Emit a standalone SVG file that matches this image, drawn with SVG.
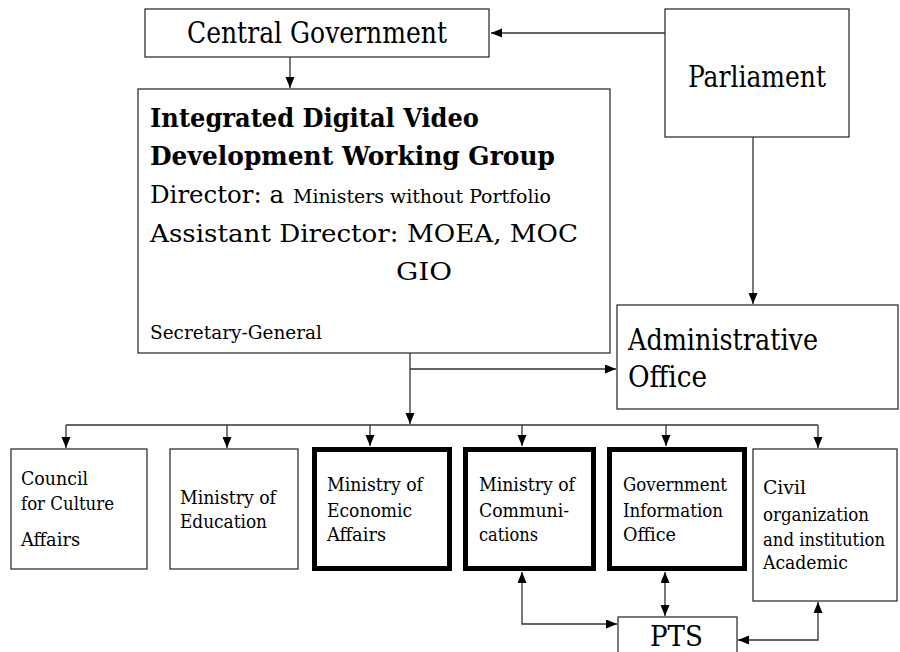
<svg xmlns="http://www.w3.org/2000/svg" width="900" height="652" viewBox="0 0 900 652">
<defs>
<marker id="ah" markerUnits="userSpaceOnUse" markerWidth="12" markerHeight="10" refX="11" refY="4.5" orient="auto-start-reverse"><path d="M0,0 L11,4.5 L0,9 z" fill="#000"/></marker>
<style>
.box{fill:#fff;stroke:#333;stroke-width:1.3}
.thick{fill:#fff;stroke:#000;stroke-width:5}
.t{font-family:"DejaVu Serif Condensed","DejaVu Serif",serif;fill:#000}
.b{font-weight:bold}
.c{stroke:#333;stroke-width:1.3;fill:none}
.a{marker-end:url(#ah)}
.d{marker-start:url(#ah);marker-end:url(#ah)}
</style>
</defs>
<rect width="900" height="652" fill="#fff"/>
<g id="connectors">
<path class="c a" d="M665,33 H491"/>
<path class="c a" d="M290,57 V88"/>
<path class="c a" d="M753,137 V304"/>
<path class="c a" d="M410,353 V424"/>
<path class="c a" d="M410,369 H616"/>
<path class="c" d="M66,425 H818"/>
<path class="c a" d="M66,425 V448"/>
<path class="c a" d="M227,425 V448"/>
<path class="c a" d="M370,425 V446"/>
<path class="c a" d="M522,425 V446"/>
<path class="c a" d="M666,425 V446"/>
<path class="c a" d="M818,425 V448"/>
<path class="c d" d="M522,572 V624 H617"/>
<path class="c d" d="M665,572 V616"/>
<path class="c d" d="M818,602 V640 H738"/>
</g>
<g id="central-government">
<rect class="box" x="145" y="9" width="344" height="48"/>
<text class="t" x="187" y="43" font-size="29" textLength="260" lengthAdjust="spacingAndGlyphs">Central Government</text>
</g>
<g id="parliament">
<rect class="box" x="665" y="9" width="184" height="128"/>
<text class="t" x="688" y="87" font-size="29" textLength="138" lengthAdjust="spacingAndGlyphs">Parliament</text>
</g>
<g id="working-group">
<rect class="box" x="138" y="89" width="472" height="264"/>
<text class="t b" x="150" y="127" font-size="26" textLength="329" lengthAdjust="spacingAndGlyphs">Integrated Digital Video</text>
<text class="t b" x="150" y="165" font-size="26" textLength="405" lengthAdjust="spacingAndGlyphs">Development Working Group</text>
<text class="t" x="150" y="203" font-size="25" textLength="134" lengthAdjust="spacingAndGlyphs">Director: a</text>
<text class="t" x="293" y="203" font-size="19" textLength="258" lengthAdjust="spacingAndGlyphs">Ministers without Portfolio</text>
<text class="t" x="150" y="242" font-size="25" textLength="428" lengthAdjust="spacingAndGlyphs">Assistant Director: MOEA, MOC</text>
<text class="t" x="396" y="280" font-size="25" textLength="56" lengthAdjust="spacingAndGlyphs">GIO</text>
<text class="t" x="150" y="339" font-size="19" textLength="172" lengthAdjust="spacingAndGlyphs">Secretary-General</text>
</g>
<g id="administrative-office">
<rect class="box" x="617" y="305" width="281" height="104"/>
<text class="t" x="628" y="350" font-size="29" textLength="190" lengthAdjust="spacingAndGlyphs">Administrative</text>
<text class="t" x="628" y="387" font-size="29" textLength="79" lengthAdjust="spacingAndGlyphs">Office</text>
</g>
<g id="council-culture">
<rect class="box" x="11" y="449" width="136" height="120"/>
<text class="t" x="21" y="485" font-size="19" textLength="67" lengthAdjust="spacingAndGlyphs">Council</text>
<text class="t" x="21" y="510" font-size="19" textLength="93" lengthAdjust="spacingAndGlyphs">for Culture</text>
<text class="t" x="21" y="546" font-size="19" textLength="59" lengthAdjust="spacingAndGlyphs">Affairs</text>
</g>
<g id="ministry-education">
<rect class="box" x="170" y="449" width="128" height="120"/>
<text class="t" x="180" y="504" font-size="19" textLength="96" lengthAdjust="spacingAndGlyphs">Ministry of</text>
<text class="t" x="180" y="528" font-size="19" textLength="87" lengthAdjust="spacingAndGlyphs">Education</text>
</g>
<g id="ministry-economic">
<rect class="thick" x="314.5" y="449.5" width="135" height="119"/>
<text class="t" x="327" y="491" font-size="19" textLength="96" lengthAdjust="spacingAndGlyphs">Ministry of</text>
<text class="t" x="327" y="517" font-size="19" textLength="85" lengthAdjust="spacingAndGlyphs">Economic</text>
<text class="t" x="327" y="541" font-size="19" textLength="59" lengthAdjust="spacingAndGlyphs">Affairs</text>
</g>
<g id="ministry-communications">
<rect class="thick" x="465.5" y="449.5" width="128" height="119"/>
<text class="t" x="479" y="491" font-size="19" textLength="96" lengthAdjust="spacingAndGlyphs">Ministry of</text>
<text class="t" x="479" y="517" font-size="19" textLength="90" lengthAdjust="spacingAndGlyphs">Communi-</text>
<text class="t" x="479" y="541" font-size="19" textLength="59" lengthAdjust="spacingAndGlyphs">cations</text>
</g>
<g id="government-information-office">
<rect class="thick" x="609.5" y="449.5" width="135" height="119"/>
<text class="t" x="623" y="491" font-size="19" textLength="104" lengthAdjust="spacingAndGlyphs">Government</text>
<text class="t" x="623" y="517" font-size="19" textLength="100" lengthAdjust="spacingAndGlyphs">Information</text>
<text class="t" x="623" y="541" font-size="19" textLength="53" lengthAdjust="spacingAndGlyphs">Office</text>
</g>
<g id="civil-organization">
<rect class="box" x="753" y="449" width="144" height="152"/>
<text class="t" x="763" y="494" font-size="19" textLength="43" lengthAdjust="spacingAndGlyphs">Civil</text>
<text class="t" x="763" y="521" font-size="19" textLength="106" lengthAdjust="spacingAndGlyphs">organization</text>
<text class="t" x="763" y="546" font-size="19" textLength="122" lengthAdjust="spacingAndGlyphs">and institution</text>
<text class="t" x="763" y="569" font-size="19" textLength="85" lengthAdjust="spacingAndGlyphs">Academic</text>
</g>
<g id="pts">
<rect class="box" x="618" y="617" width="119" height="45"/>
<text class="t" x="650" y="646" font-size="28" textLength="53" lengthAdjust="spacingAndGlyphs">PTS</text>
</g>
</svg>
